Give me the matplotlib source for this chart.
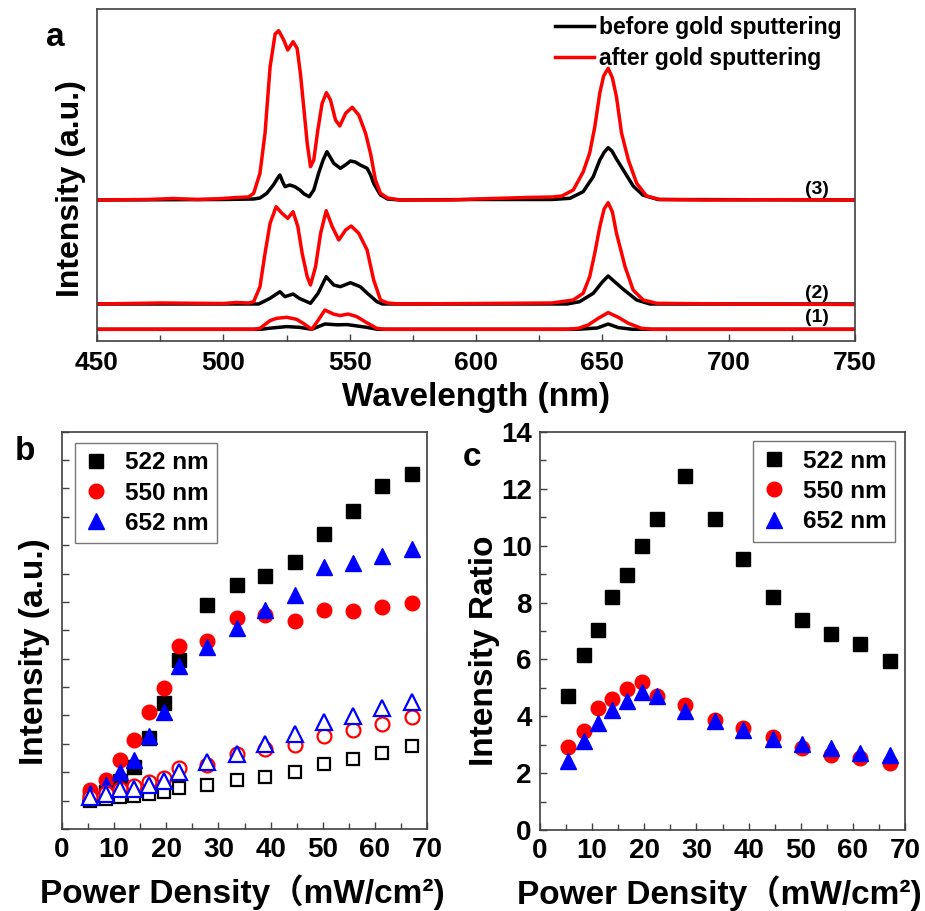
import matplotlib
matplotlib.use("Agg")
import matplotlib.pyplot as plt
from matplotlib.ticker import MultipleLocator, NullFormatter, NullLocator

plt.rcParams["font.family"] = ["Liberation Sans", "Noto Sans CJK SC"]
plt.rcParams["font.weight"] = "bold"
plt.rcParams["axes.labelweight"] = "bold"

# ---------------- panel a: emission spectra (height above each baseline, a.u.)
wl_3_after = [450, 470, 480, 490, 500, 505, 510, 512, 514.5, 516.5, 518.5, 520.5, 521.9,
              523.9, 525.5, 527.6, 529.2, 530.5, 531.8, 533.2, 534.5, 535.8, 537.4, 539.1,
              540.8, 542.4, 544.4, 546.1, 548.4, 551, 553.6, 556.3, 558.3, 560.2, 562.2,
              565, 570, 590, 600, 620, 630, 634, 638.5, 642.4, 645, 647, 649, 650.5,
              652.3, 654, 655.6, 657.6, 660.3, 663.6, 667.5, 672.8, 690, 720, 750]
int_3_after = [0, 0.5, 1.5, 0.5, 1.5, 2.5, 3, 6.7, 26.7, 66.7, 133, 166, 169.3,
               160, 150, 158.3, 151.7, 126.7, 93.3, 56.7, 33.3, 40, 70, 96.7,
               107.3, 100, 80, 74, 86.7, 92.7, 85, 66.7, 46, 20, 6.7,
               2, 0, 0, 1, 2.5, 3, 4, 10, 28, 47, 73, 107, 124,
               131.7, 122, 103, 67, 40, 16.7, 4, 0.5, 0, 0.3, 0]
wl_3_before = [450, 500, 512, 514.5, 517.2, 519.8, 521.5, 522.4, 523.5, 524.4, 526.3,
               528.3, 530.3, 532, 534, 535.8, 537.7, 539.5, 541, 542.5, 543.7, 546.3,
               548.3, 550.3, 552.2, 554.2, 556.9, 558.3, 559.5, 561, 562.2, 565, 570,
               600, 630, 637.2, 642.4, 646.4, 649, 650.8, 652.3, 653.8, 655.6, 658.3,
               662.2, 666, 672, 750]
int_3_before = [0, 0.5, 1, 2, 6.7, 15, 22, 25, 18, 13.3, 15,
                13.3, 10, 6, 3.3, 10, 26.7, 40, 48.3, 42, 36.7, 31.7,
                35, 39, 38, 35, 31.7, 25, 16.7, 10, 5, 1, 0,
                0.5, 0.5, 1.7, 8.3, 23.3, 40, 48, 52.3, 49, 41, 30,
                14, 5, 0.5, 0]

wl_2_after = [450, 475, 500, 505, 510, 512, 514.5, 516.5, 518.5, 520.9, 523.2, 525.5,
              527.6, 529.5, 531.2, 533.2, 534.5, 536.5, 538.5, 540.7, 543.1, 545.7,
              548.4, 550.6, 553.6, 556.9, 559.5, 562.2, 565, 570, 600, 630, 638.5,
              642.4, 645, 647, 649, 650.7, 652.3, 654, 655.6, 659, 662.2, 666.2,
              671.5, 700, 750]
int_2_after = [0, 1, 0.5, 1.5, 1, 2.3, 17.3, 50.7, 80.7, 97.3, 90.7, 85.7,
               92.3, 77.3, 50.7, 27.3, 19, 37.3, 70.7, 93.3, 77.3, 64,
               74, 78, 70.7, 54, 24, 4, 1, 0, 0.5, 1, 4,
               10.7, 27.3, 50.7, 77.3, 95, 101.3, 92, 70.7, 37.3, 14, 4,
               0.7, 0, -0.5]
wl_2_before = [450, 514, 518.5, 522.4, 524.4, 527.6, 530, 534.5, 537.5, 540.7, 543.7,
               546.3, 550.3, 554.2, 557, 560.8, 563, 636, 641, 646.4, 650, 652.3,
               655, 658.3, 663.6, 668.8, 750]
int_2_before = [0, 0, 5.7, 12.3, 7.3, 10, 5.7, 0.7, 10.7, 27.3, 19,
                17.3, 21.3, 17.3, 10.7, 2.3, 0, 0, 2.3, 10.7, 22, 28,
                22, 14.7, 4, 0, 0]

wl_1_after = [450, 512, 514.5, 518.5, 521.1, 525.1, 529, 531.6, 535, 537.6, 540.2,
              543.5, 546.2, 549.4, 552.8, 556.7, 560.7, 564, 636, 640.5, 644.4,
              648.4, 652.3, 656.3, 660.3, 665.5, 670, 750]
int_1_after = [0, 0, 1, 8.7, 11, 12, 10, 6, 0, 9.3, 19.3,
               15.3, 13.7, 15.3, 12.7, 6.7, 1, 0, 0, 1, 4.3,
               11, 16.7, 12, 6, 1, 0, 0]
wl_1_before = [450, 515, 518, 525, 530, 535, 540.2, 545, 549, 556.7, 561, 640, 648,
               652.3, 656.3, 662, 750]
int_1_before = [0, 0, 1, 2.7, 2, 0, 5.3, 4.5, 4.7, 2, 0, 0, 1.3,
                5.3, 1.7, 0, 0]

# vertical offsets of the stacked spectra (1), (2), (3)
offset_1, offset_2, offset_3 = 11.7, 37.0, 141.0

# ---------------- panels b and c: power dependence
power = [5.4, 8.4, 11.1, 13.9, 16.7, 19.5, 22.4, 27.9, 33.5, 39.0, 44.6, 50.2, 55.8, 61.4, 67.1]

after_522 = [0.1, 0.3, 0.7, 1.2, 2.2, 3.45, 4.95, 6.9, 7.6, 7.93, 8.4, 9.4, 10.2, 11.1, 11.5]
after_550 = [0.38, 0.73, 1.44, 2.14, 3.14, 3.96, 5.44, 5.61, 6.44, 6.53, 6.32, 6.73, 6.67, 6.82, 6.96]
after_652 = [0.26, 0.55, 1.02, 1.44, 2.28, 3.14, 4.73, 5.41, 6.08, 6.73, 7.26, 8.24, 8.38, 8.61, 8.85]
before_522 = [0.0, 0.05, 0.12, 0.16, 0.24, 0.32, 0.44, 0.55, 0.71, 0.82, 1.02, 1.29, 1.47, 1.69, 1.93]
before_550 = [0.14, 0.27, 0.42, 0.52, 0.65, 0.78, 1.15, 1.27, 1.63, 1.81, 1.95, 2.28, 2.5, 2.7, 2.96]
before_652 = [0.12, 0.25, 0.4, 0.42, 0.55, 0.7, 1.02, 1.36, 1.66, 2.0, 2.36, 2.78, 2.98, 3.25, 3.48]

ratio_522 = [4.72, 6.15, 7.02, 8.21, 8.96, 10.0, 10.93, 12.46, 10.93, 9.55, 8.18, 7.39, 6.91, 6.56, 5.96]
ratio_550 = [2.93, 3.5, 4.3, 4.6, 4.95, 5.21, 4.71, 4.4, 3.88, 3.59, 3.26, 2.9, 2.65, 2.52, 2.35]
ratio_652 = [2.41, 3.12, 3.75, 4.23, 4.53, 4.86, 4.71, 4.17, 3.83, 3.51, 3.19, 3.03, 2.88, 2.71, 2.63]

series_labels = ["522 nm", "550 nm", "652 nm"]

RED = "#ff0000"
BLUE = "#0000ff"
FRAME = "#404040"
W, H = 925, 911

fig = plt.figure(figsize=(W / 100, H / 100), dpi=100)


def box(left, top, right, bottom):
    return [left / W, 1 - bottom / H, (right - left) / W, (bottom - top) / H]


def style_frame(ax):
    for sp in ax.spines.values():
        sp.set_color(FRAME)
        sp.set_linewidth(1.2)
    ax.tick_params(which="both", direction="in", color=FRAME, width=1.0,
                   top=False, right=False)
    ax.tick_params(which="major", length=5)
    ax.tick_params(which="minor", length=4)


# ---------- a
ax_a = fig.add_axes(box(97, 9.3, 855, 341))
style_frame(ax_a)
lw = 2.5
pairs = [(wl_1_before, int_1_before, wl_1_after, int_1_after, offset_1),
         (wl_2_before, int_2_before, wl_2_after, int_2_after, offset_2),
         (wl_3_before, int_3_before, wl_3_after, int_3_after, offset_3)]
for i, (wb, ib, wa, ia, off) in enumerate(pairs):
    lab_b = "before gold sputtering" if i == 2 else None
    lab_a = "after gold sputtering" if i == 2 else None
    ax_a.plot(wb, [v + off for v in ib], color="black", lw=lw, solid_joinstyle="round", label=lab_b)
    ax_a.plot(wa, [v + off for v in ia], color=RED, lw=lw, solid_joinstyle="round", label=lab_a)

ax_a.set_xlim(450, 750)
ax_a.set_ylim(0, 331.7)
ax_a.xaxis.set_major_locator(MultipleLocator(50))
ax_a.xaxis.set_minor_locator(MultipleLocator(25))
ax_a.yaxis.set_major_locator(NullLocator())
ax_a.tick_params(axis="x", labelsize=19, pad=7)
for lbl, yy in [("(3)", 151), ("(2)", 48), ("(1)", 23)]:
    ax_a.text(735, yy, lbl, fontsize=14, ha="center", va="center")
ax_a.set_xlabel("Wavelength (nm)", fontsize=24)
ax_a.xaxis.set_label_coords(0.5, -0.125)
ax_a.set_ylabel("Intensity (a.u.)", fontsize=23)
ax_a.yaxis.set_label_coords(-0.0145, 0.46)
ax_a.legend(loc="upper right", bbox_to_anchor=(1.0, 1.02), frameon=False, fontsize=16.5,
            handlelength=1.7, handletextpad=0.2, labelspacing=0.35, borderaxespad=0.2)
fig.text(55 / W, 1 - 38 / H, "a", fontsize=24, ha="center", va="center")

# marker styles for the three emission bands
mk = [dict(marker="s", ms=9.5, color="black"),
      dict(marker="o", ms=10.5, color=RED),
      dict(marker="^", ms=11.5, color=BLUE)]

xlab = "Power Density（mW/cm²)"

# ---------- b
ax_b = fig.add_axes(box(62, 431.7, 427, 829))
style_frame(ax_b)
for m, yv, lab in zip(mk, [after_522, after_550, after_652], series_labels):
    ax_b.plot(power, yv, ls="none", marker=m["marker"], ms=m["ms"], mfc=m["color"],
              mec=m["color"], label=lab)
for m, yv in zip(mk, [before_522, before_550, before_652]):
    ax_b.plot(power, yv, ls="none", marker=m["marker"], ms=m["ms"] - 0.5, mfc="white",
              mec=m["color"], mew=1.6)
ax_b.set_xlim(0, 70)
ax_b.set_ylim(-1, 13)
ax_b.xaxis.set_major_locator(MultipleLocator(10))
ax_b.xaxis.set_minor_locator(MultipleLocator(5))
ax_b.yaxis.set_major_locator(MultipleLocator(1))
ax_b.yaxis.set_major_formatter(NullFormatter())
ax_b.tick_params(axis="x", labelsize=20, pad=6)
ax_b.set_xlabel(xlab, fontsize=24)
ax_b.xaxis.set_label_coords(0.493, -0.113)
ax_b.set_ylabel("Intensity (a.u.)", fontsize=24)
ax_b.yaxis.set_label_coords(-0.033, 0.446)
leg_b = ax_b.legend(loc="upper left", bbox_to_anchor=(0.036, 0.972), fontsize=17.5,
                    fancybox=False, edgecolor="#555555", handlelength=1.0,
                    handletextpad=0.7, labelspacing=0.3, borderpad=0.35, borderaxespad=0)
leg_b.get_frame().set_linewidth(1.0)
fig.text(25 / W, 1 - 452 / H, "b", fontsize=24, ha="center", va="center")

# ---------- c
ax_c = fig.add_axes(box(540, 432, 905, 830))
style_frame(ax_c)
for m, yv, lab in zip(mk, [ratio_522, ratio_550, ratio_652], series_labels):
    ax_c.plot(power, yv, ls="none", marker=m["marker"], ms=m["ms"], mfc=m["color"],
              mec=m["color"], label=lab)
ax_c.set_xlim(0, 70)
ax_c.set_ylim(0, 14)
ax_c.xaxis.set_major_locator(MultipleLocator(10))
ax_c.xaxis.set_minor_locator(MultipleLocator(5))
ax_c.yaxis.set_major_locator(MultipleLocator(2))
ax_c.yaxis.set_minor_locator(MultipleLocator(1))
ax_c.tick_params(labelsize=20, pad=6)
ax_c.set_xlabel(xlab, fontsize=24)
ax_c.xaxis.set_label_coords(0.49, -0.113)
ax_c.set_ylabel("Intensity Ratio", fontsize=24)
ax_c.yaxis.set_label_coords(-0.11, 0.45)
leg_c = ax_c.legend(loc="upper right", bbox_to_anchor=(0.973, 0.977), fontsize=17.5,
                    fancybox=False, edgecolor="#555555", handlelength=1.0,
                    handletextpad=0.7, labelspacing=0.3, borderpad=0.35, borderaxespad=0)
leg_c.get_frame().set_linewidth(1.0)
fig.text(472 / W, 1 - 458 / H, "c", fontsize=24, ha="center", va="center")

fig.savefig("out.png", dpi=100)
